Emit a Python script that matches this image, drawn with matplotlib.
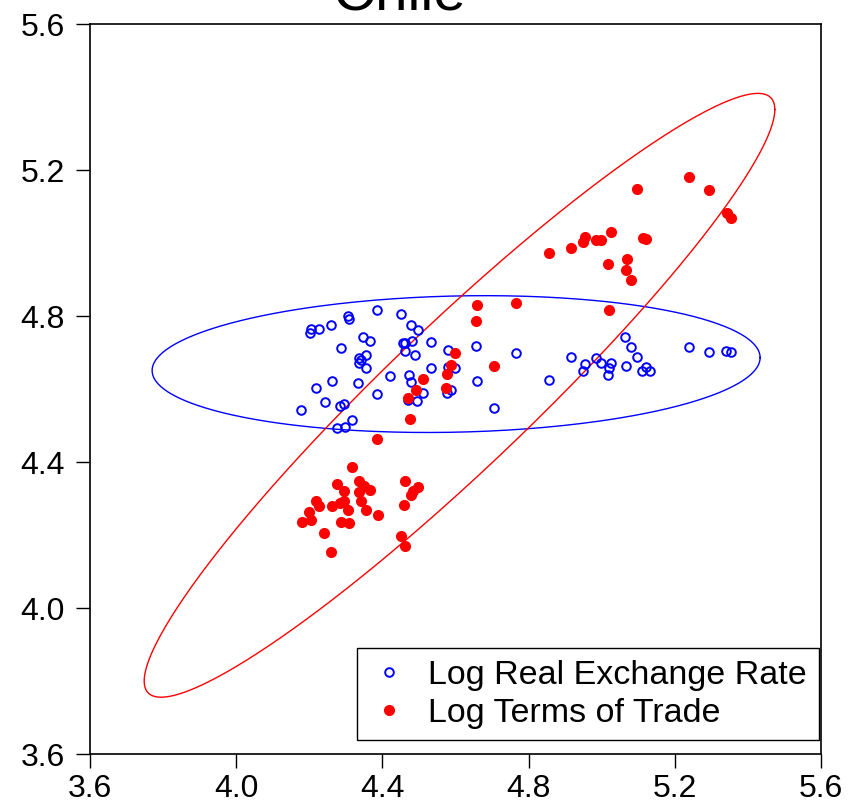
import numpy as np
import matplotlib
matplotlib.use('Agg')
from matplotlib import pyplot as plt

plt.rcParams['font.family'] = ['Liberation Sans', 'DejaVu Sans']

# Log real exchange rate
lrer_x = [4.201, 4.205, 4.227, 4.260, 4.306, 4.308, 4.386, 4.450, 4.479, 4.497,
          4.347, 4.367, 4.288, 4.457, 4.462, 4.481, 4.533, 4.462, 4.488, 4.579,
          4.655, 4.765, 4.354, 4.337, 4.342, 4.337, 4.354, 4.533, 4.580, 4.600,
          4.422, 4.472, 4.477, 4.263, 4.333, 4.219, 4.660, 4.588, 4.577, 4.512,
          4.494, 4.471, 4.385, 4.242, 4.285, 4.294, 4.178, 4.704, 4.316, 4.276,
          4.297, 4.855, 4.917, 4.954, 4.948, 4.985, 4.997, 5.025, 5.020, 5.017,
          5.065, 5.079, 5.096, 5.067, 5.121, 5.110, 5.132, 5.238, 5.293, 5.341,
          5.355]
lrer_y = [4.755, 4.765, 4.764, 4.777, 4.801, 4.792, 4.817, 4.805, 4.775, 4.762,
          4.744, 4.732, 4.713, 4.726, 4.728, 4.731, 4.730, 4.705, 4.695, 4.708,
          4.718, 4.700, 4.693, 4.687, 4.680, 4.671, 4.657, 4.657, 4.661, 4.657,
          4.636, 4.640, 4.621, 4.622, 4.617, 4.603, 4.624, 4.597, 4.591, 4.590,
          4.568, 4.570, 4.587, 4.565, 4.554, 4.559, 4.543, 4.549, 4.515, 4.494,
          4.496, 4.626, 4.689, 4.669, 4.650, 4.685, 4.672, 4.673, 4.658, 4.640,
          4.744, 4.717, 4.688, 4.664, 4.661, 4.649, 4.650, 4.716, 4.702, 4.705,
          4.702]

# Log terms of trade
ltot_x = [4.659, 4.765, 4.655, 4.599, 4.589, 4.577, 4.575, 4.705, 4.510, 4.493,
          4.471, 4.476, 4.385, 4.316, 4.277, 4.296, 4.336, 4.349, 4.367, 4.335,
          4.342, 4.354, 4.387, 4.219, 4.227, 4.263, 4.285, 4.294, 4.306, 4.200,
          4.205, 4.180, 4.288, 4.309, 4.241, 4.259, 4.462, 4.498, 4.484, 4.479,
          4.458, 4.450, 4.461, 5.096, 5.238, 5.293, 5.342, 5.355, 4.856, 4.917,
          4.950, 4.955, 4.985, 4.997, 5.025, 5.112, 5.121, 5.018, 5.068, 5.066,
          5.079, 5.019]
ltot_y = [4.832, 4.837, 4.786, 4.700, 4.666, 4.641, 4.604, 4.665, 4.627, 4.597,
          4.575, 4.520, 4.465, 4.388, 4.341, 4.322, 4.350, 4.334, 4.323, 4.318,
          4.295, 4.269, 4.256, 4.293, 4.279, 4.281, 4.289, 4.293, 4.270, 4.263,
          4.243, 4.237, 4.236, 4.234, 4.206, 4.155, 4.348, 4.331, 4.320, 4.311,
          4.282, 4.197, 4.172, 5.150, 5.181, 5.145, 5.084, 5.069, 4.973, 4.988,
          5.003, 5.017, 5.010, 5.010, 5.030, 5.014, 5.011, 4.942, 4.958, 4.927,
          4.900, 4.818]

ticks = [3.6, 4.0, 4.4, 4.8, 5.2, 5.6]


def conf_ellipse(x, y, k=2.50, n=400):
    # confidence ellipse from sample mean and covariance
    x = np.asarray(x)
    y = np.asarray(y)
    cov = np.cov(x, y)
    L = np.linalg.cholesky(cov)
    t = np.linspace(0, 2 * np.pi, n)
    circ = np.vstack([np.cos(t), np.sin(t)]) * k
    pts = L @ circ
    return x.mean() + pts[0], y.mean() + pts[1]


fig = plt.figure(figsize=(8.48, 8.08), dpi=100)
ax = fig.add_axes([90 / 848, 53.7 / 808, 731 / 848, 730 / 808])

ex, ey = conf_ellipse(lrer_x, lrer_y)
ax.plot(ex, ey, color='#0000ff', lw=1.0)
ex, ey = conf_ellipse(ltot_x, ltot_y)
ax.plot(ex, ey, color='#ff0000', lw=1.0)

ax.plot(lrer_x, lrer_y, 'o', mfc='none', mec='#0000ff', mew=1.4, ms=6.2,
        ls='none', label='Log Real Exchange Rate')
ax.plot(ltot_x, ltot_y, 'o', mfc='#ff0000', mec='#ff0000', ms=7.0,
        ls='none', label='Log Terms of Trade')

ax.set_xlim(3.6, 5.6)
ax.set_ylim(3.6, 5.6)
ax.set_xticks(ticks)
ax.set_yticks(ticks)
ax.set_xticklabels(['%.1f' % t for t in ticks])
ax.set_yticklabels(['%.1f' % t for t in ticks])
ax.tick_params(direction='out', length=10, width=1, labelsize=23)
ax.tick_params(axis='x', pad=4.5)
ax.tick_params(axis='y', pad=8)
for s in ax.spines.values():
    s.set_linewidth(1.2)

leg = ax.legend(loc='lower right', bbox_to_anchor=(0.997, 0.019), fontsize=24.5,
                frameon=True, fancybox=False, edgecolor='black', framealpha=1,
                borderaxespad=0, handletextpad=0.55, borderpad=0.35,
                labelspacing=0.2, handlelength=1.2)
leg.get_frame().set_linewidth(1.0)

fig.text(399 / 848, 1 - 10 / 808, 'Chile', ha='center', va='baseline',
         fontsize=42)

fig.savefig('out.png', dpi=100)
